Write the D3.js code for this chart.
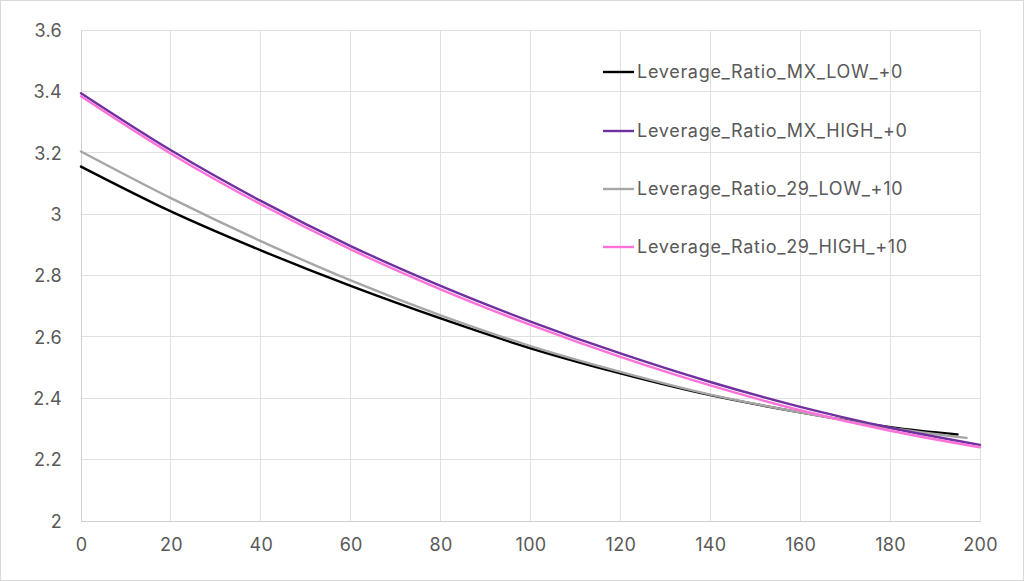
<!DOCTYPE html>
<html><head><meta charset="utf-8">
<script src="https://cdn.jsdelivr.net/npm/d3@7"></script>
<style>
html,body{margin:0;padding:0;background:#fff;}
svg{display:block;font-family:Inter,"Noto Sans",sans-serif;}
</style></head>
<body><svg id="c" width="1024" height="581"></svg>
<script>
const seriesNames = ["Leverage_Ratio_MX_LOW_+0","Leverage_Ratio_MX_HIGH_+0","Leverage_Ratio_29_LOW_+10","Leverage_Ratio_29_HIGH_+10"];
const seriesColors = ["#000000","#7030A0","#A6A6A6","#FF73D9"];
const mxLow = [[0,3.155],[20,3.009],[40,2.882],[60,2.766],[80,2.660],[100,2.563],[120,2.481],[140,2.410],[160,2.354],[180,2.306],[195,2.282]];
const mxHigh = [[0,3.394],[20,3.208],[40,3.043],[60,2.896],[80,2.766],[100,2.650],[120,2.546],[140,2.453],[160,2.372],[180,2.304],[200,2.248]];
const r29Low = [[0,3.204],[20,3.052],[40,2.912],[60,2.784],[80,2.670],[100,2.570],[120,2.486],[140,2.412],[160,2.354],[180,2.303],[197,2.271]];
const r29High = [[0,3.384],[20,3.197],[40,3.032],[60,2.885],[80,2.755],[100,2.639],[120,2.535],[140,2.442],[160,2.361],[180,2.294],[200,2.240]];
const xTicks = [0,20,40,60,80,100,120,140,160,180,200];
const yTicks = [2,2.2,2.4,2.6,2.8,3,3.2,3.4,3.6];

const allSeries = [mxLow, mxHigh, r29Low, r29High];
const svg = d3.select("#c");
const W=1024,H=581;
const m={l:81,r:44,t:30,b:60};
svg.append("rect").attr("x",0.5).attr("y",0.5).attr("width",W-1).attr("height",H-1).attr("fill","#fff").attr("stroke","#d9d9d9");

const x = d3.scaleLinear().domain([0,200]).range([m.l, W-m.r]);
const y = d3.scaleLinear().domain([2,3.6]).range([H-m.b, m.t]);

const g = svg.append("g");
g.append("g").selectAll("line").data(xTicks).join("line")
 .attr("x1",d=>x(d)).attr("x2",d=>x(d)).attr("y1",y(2)).attr("y2",y(3.6))
 .attr("stroke","#e0e0e0").attr("stroke-width",1).attr("shape-rendering","crispEdges");
g.append("g").selectAll("line").data(yTicks).join("line")
 .attr("x1",x(0)).attr("x2",x(200)).attr("y1",d=>y(d)).attr("y2",d=>y(d))
 .attr("stroke","#e0e0e0").attr("stroke-width",1).attr("shape-rendering","crispEdges");

const xAxis = d3.axisBottom(x).tickValues(xTicks).tickSize(0).tickPadding(17).tickFormat(d3.format("d"));
const yAxis = d3.axisLeft(y).tickValues(yTicks).tickSize(0).tickPadding(19).tickFormat(d=>String(+d.toFixed(1)));
const gx = svg.append("g").attr("transform",`translate(0,${y(2)})`).call(xAxis);
const gy = svg.append("g").attr("transform",`translate(${x(0)},0)`).call(yAxis);
[gx,gy].forEach(a=>{
  a.select(".domain").attr("stroke","#d0d0d0").attr("shape-rendering","crispEdges");
  a.selectAll("text").attr("fill","#595959").attr("font-size","18px").attr("letter-spacing","0.3px").attr("font-family","Inter,sans-serif");
});
gy.selectAll("text").attr("dy","0.35em");

const line = d3.line().x(d=>x(d[0])).y(d=>y(d[1])).curve(d3.curveCatmullRom);
svg.append("g").selectAll("path").data([0,2,1,3]).join("path")
 .attr("d",i=>line(allSeries[i])).attr("fill","none")
 .attr("stroke",i=>seriesColors[i]).attr("stroke-width",2.4).attr("stroke-linecap","round");

const lg = svg.append("g");
const legY = [72,131,189,247];
seriesNames.forEach((n,i)=>{
  lg.append("line").attr("x1",603).attr("x2",634).attr("y1",legY[i]).attr("y2",legY[i])
    .attr("stroke",seriesColors[i]).attr("stroke-width",2.4);
  lg.append("text").attr("x",637).attr("y",legY[i]).attr("dy","0.35em")
    .attr("fill","#595959").attr("font-size","18px").attr("letter-spacing","0.7px").text(n);
});
</script></body></html>
